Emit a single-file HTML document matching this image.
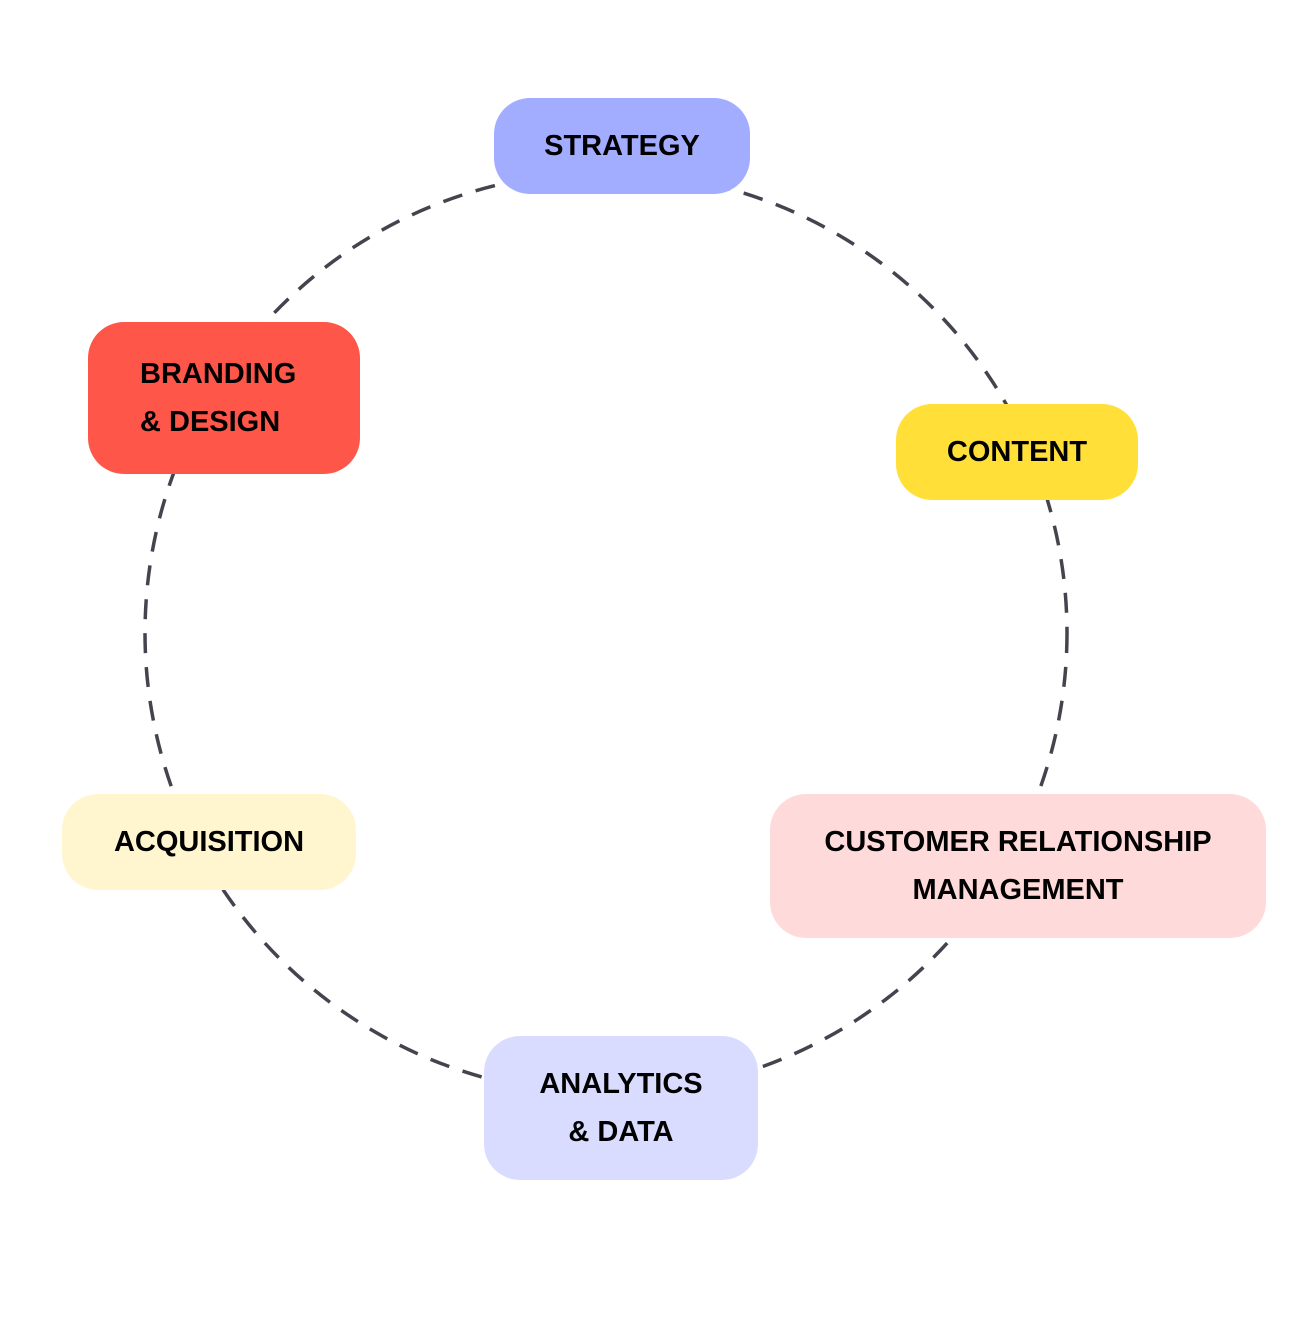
<!DOCTYPE html>
<html><head><style>
body{margin:0;width:1302px;height:1336px;background:#fff;position:relative;overflow:hidden;font-family:"Liberation Sans",sans-serif;}
.b{position:absolute;display:flex;align-items:center;justify-content:center;text-align:center;font-weight:bold;font-size:29px;line-height:48px;color:#000;border-radius:36px;}
</style></head><body>
<svg width="1302" height="1336" style="position:absolute;left:0;top:0">
<circle cx="606" cy="633" r="461" fill="none" stroke="#44444f" stroke-width="3.5" stroke-dasharray="20 14"/>
</svg>
<div class="b" style="left:494px;top:98px;width:256px;height:96px;background:#a3adff;">STRATEGY</div>
<div class="b" style="left:88px;top:322px;width:272px;height:152px;background:#ff564a;justify-content:flex-start;text-align:left;"><div style="padding-left:52px">BRANDING<br>&amp; DESIGN</div></div>
<div class="b" style="left:896px;top:404px;width:242px;height:96px;background:#ffdf38;">CONTENT</div>
<div class="b" style="left:62px;top:794px;width:294px;height:96px;background:#fff6cf;">ACQUISITION</div>
<div class="b" style="left:770px;top:794px;width:496px;height:144px;background:#ffdada;">CUSTOMER RELATIONSHIP<br>MANAGEMENT</div>
<div class="b" style="left:484px;top:1036px;width:274px;height:144px;background:#dadcff;">ANALYTICS<br>&amp; DATA</div>
</body></html>
